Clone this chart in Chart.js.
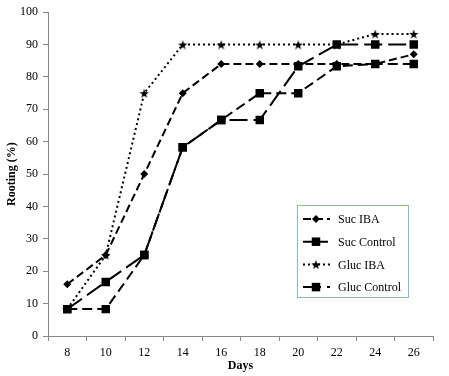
<!DOCTYPE html>
<html>
<head>
<meta charset="utf-8">
<script src="https://cdn.jsdelivr.net/npm/chart.js@4.4.0/dist/chart.umd.min.js"></script>
<style>
  html, body { margin: 0; padding: 0; background: #fff; }
</style>
</head>
<body>
<canvas id="chart" width="449" height="376"></canvas>
<script>
/* ===== Rooting (%) vs Days ===== */

const days        = ['8', '10', '12', '14', '16', '18', '20', '22', '24', '26'];
const sucIBA      = [16, 25, 50, 75, 84, 84, 84, 84, 84, 87];
const sucControl  = [8.3, 8.3, 25, 58.3, 66.7, 75, 75, 83.3, 84, 84];
const glucIBA     = [8.3, 25, 75, 90, 90, 90, 90, 90, 93.3, 93.3];
const glucControl = [8.3, 16.7, 25, 58.3, 66.7, 66.7, 83.3, 90, 90, 90];
const yTicks      = [0, 10, 20, 30, 40, 50, 60, 70, 80, 90, 100];

const SERIF = "'Liberation Serif', 'Times New Roman', serif";

// filled star marker (Chart.js 'star' is only an outline)
function starImg(size) {
  const c = document.createElement('canvas');
  c.width = c.height = size;
  const g = c.getContext('2d');
  g.fillStyle = '#000';
  g.beginPath();
  for (let i = 0; i < 10; i++) {
    const r = i % 2 ? size * 0.2 : size * 0.5;
    const a = -Math.PI / 2 + i * Math.PI / 5;
    g.lineTo(size / 2 + r * Math.cos(a), size / 2 + r * Math.sin(a) + size * 0.06);
  }
  g.closePath();
  g.fill();
  return c;
}
const star = starImg(10);

function series(label, data, dash, style, radius) {
  return {
    label, data,
    borderColor: '#000',
    backgroundColor: '#000',
    borderWidth: 2,
    borderDash: dash,
    pointStyle: style,
    pointRadius: radius,
    pointBorderWidth: 0,
    tension: 0
  };
}

const datasets = [
  series('Suc IBA',      sucIBA,      [8, 4],  'rectRot', 4),
  series('Suc Control',  sucControl,  [10, 5], 'rect',    6),
  series('Gluc IBA',     glucIBA,     [2, 3],  star,      5),
  series('Gluc Control', glucControl, [18, 6], 'rect',    6)
];

// legend box drawn inside the plot, like the original
const boxLegend = {
  id: 'boxLegend',
  afterDraw(chart) {
    const ctx = chart.ctx;
    const x0 = 297, y0 = 205, w = 111, h = 92;
    ctx.save();
    ctx.strokeStyle = '#8db3e2';
    ctx.lineWidth = 1;
    ctx.strokeRect(x0 + 0.5, y0 + 0.5, w, h);
    chart.data.datasets.forEach((ds, i) => {
      const cy = y0 + 14 + i * 22.7;
      const cx = x0 + 19;
      ctx.strokeStyle = '#000';
      ctx.lineWidth = 2;
      ctx.setLineDash(ds.borderDash);
      ctx.beginPath();
      ctx.moveTo(x0 + 6, cy);
      ctx.lineTo(x0 + 33, cy);
      ctx.stroke();
      ctx.setLineDash([]);
      ctx.fillStyle = '#000';
      if (ds.pointStyle === 'rect') {
        const s = ds.pointRadius * Math.SQRT1_2;
        ctx.fillRect(cx - s, cy - s, 2 * s, 2 * s);
      } else if (ds.pointStyle === 'rectRot') {
        const r = ds.pointRadius;
        ctx.beginPath();
        ctx.moveTo(cx, cy - r); ctx.lineTo(cx + r, cy);
        ctx.lineTo(cx, cy + r); ctx.lineTo(cx - r, cy);
        ctx.closePath(); ctx.fill();
      } else {
        ctx.drawImage(ds.pointStyle, cx - 5, cy - 5);
      }
      ctx.font = '12px ' + SERIF;
      ctx.textBaseline = 'middle';
      ctx.fillText(ds.label, x0 + 41, cy + 1);
    });
    ctx.restore();
  }
};

new Chart(document.getElementById('chart'), {
  type: 'line',
  data: { labels: days, datasets },
  plugins: [boxLegend],
  options: {
    responsive: false,
    animation: false,
    devicePixelRatio: 1,
    layout: { padding: { top: 10, right: 16 } },
    plugins: { legend: { display: false }, tooltip: { enabled: false } },
    scales: {
      x: {
        offset: true,
        grid: { offset: true, drawOnChartArea: false, tickLength: 5, color: '#888' },
        border: { color: '#888' },
        ticks: { color: '#000', font: { family: SERIF, size: 12 }, padding: 5, maxRotation: 0 },
        title: { display: true, text: 'Days', color: '#000', font: { family: SERIF, size: 12, weight: 'bold' }, padding: 3 },
        afterFit(s) { s.height = 40; }
      },
      y: {
        min: 0, max: 100,
        afterBuildTicks(s) { s.ticks = yTicks.map(v => ({ value: v })); },
        grid: { drawOnChartArea: false, tickLength: 5, color: '#888' },
        border: { color: '#888' },
        ticks: { color: '#000', font: { family: SERIF, size: 12 }, padding: 5 },
        title: { display: true, text: 'Rooting (%)', color: '#000', font: { family: SERIF, size: 12, weight: 'bold' }, padding: { top: 5, bottom: 3 } },
        afterFit(s) { s.width = 48; }
      }
    }
  }
});
</script>
</body>
</html>
